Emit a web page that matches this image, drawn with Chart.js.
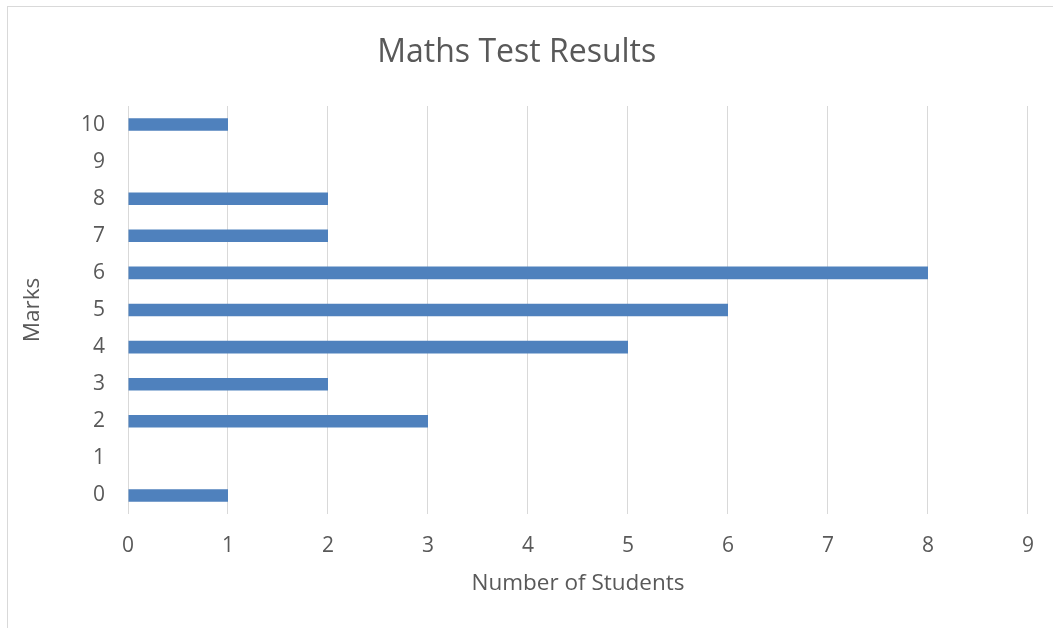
<!DOCTYPE html>
<html>
<head>
<meta charset="utf-8">
<script src="https://cdn.jsdelivr.net/npm/chart.js@4.4.1/dist/chart.umd.min.js"></script>
<style>
  html, body { margin: 0; padding: 0; background: #ffffff; overflow: hidden; }
  #wrap { position: relative; width: 1053px; height: 628px; overflow: hidden; }
  #frame { position: absolute; left: 7px; top: 6px; width: 2000px; height: 2000px; border: 1px solid #D9D9D9; box-sizing: border-box; }
  #c { position: absolute; left: 0; top: 0; }
</style>
</head>
<body>
<div id="wrap">
  <div id="frame"></div>
  <canvas id="c" width="1053" height="628"></canvas>
</div>
<script>
const marks = ['0', '1', '2', '3', '4', '5', '6', '7', '8', '9', '10'];
const students = [1, 0, 3, 2, 5, 6, 8, 2, 2, 0, 1];
const xTicks = [0, 1, 2, 3, 4, 5, 6, 7, 8, 9];
const chartTitle = 'Maths Test Results';
const xTitle = 'Number of Students';
const yTitle = 'Marks';

const FONT = "'Open Sans', 'DejaVu Sans', sans-serif";
const TEXT = '#595959';

new Chart(document.getElementById('c'), {
  type: 'bar',
  data: {
    labels: marks,
    datasets: [{
      data: students,
      backgroundColor: '#4F81BD',
      borderWidth: 0,
      barPercentage: 0.34,
      categoryPercentage: 1.0
    }]
  },
  options: {
    indexAxis: 'y',
    responsive: false,
    animation: false,
    layout: { padding: { left: 0, right: 19.5, top: 0, bottom: 0 } },
    plugins: {
      legend: { display: false },
      tooltip: { enabled: false },
      title: {
        display: true,
        text: chartTitle,
        color: TEXT,
        font: { family: FONT, size: 32, weight: 'normal' },
        padding: { top: 33.5, bottom: 34.1 }
      }
    },
    scales: {
      x: {
        min: xTicks[0],
        max: xTicks[xTicks.length - 1],
        afterBuildTicks: (s) => { s.ticks = xTicks.map(v => ({ value: v })); },
        afterFit: (s) => { s.height = 114; },
        grid: { color: '#D9D9D9', lineWidth: 1, drawTicks: false },
        border: { display: false },
        ticks: { color: TEXT, font: { family: FONT, size: 21 }, padding: 19 },
        title: {
          display: true, text: xTitle, color: TEXT,
          font: { family: FONT, size: 22.5 }, padding: { top: 0, bottom: 30.5 }
        }
      },
      y: {
        reverse: true,
        afterFit: (s) => { s.width = 128; },
        grid: { display: false, drawTicks: false },
        border: { display: false },
        ticks: { color: TEXT, font: { family: FONT, size: 21 }, padding: 23 },
        title: {
          display: true, text: yTitle, color: TEXT,
          font: { family: FONT, size: 22.5 }, padding: { top: 19, bottom: 0 }
        }
      }
    }
  }
});
</script>
</body>
</html>
